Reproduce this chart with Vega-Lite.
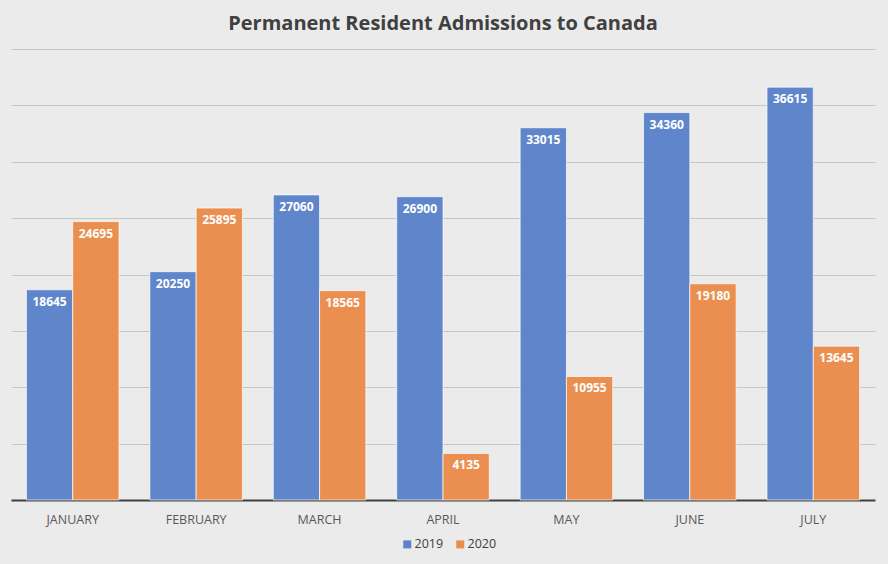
{
  "$schema": "https://vega.github.io/schema/vega-lite/v6.json",
  "width": 864,
  "height": 451,
  "autosize": "none",
  "padding": {"left": 11, "top": 49, "right": 13, "bottom": 64},
  "background": "#ebebeb",
  "title": {
    "text": "Permanent Resident Admissions to Canada",
    "font": "Open Sans",
    "fontSize": 20,
    "fontWeight": "bold",
    "color": "#404040",
    "offset": 15
  },
  "data": {
    "values": [
      {"month": "JANUARY", "year": "2019", "value": 18645},
      {"month": "JANUARY", "year": "2020", "value": 24695},
      {"month": "FEBRUARY", "year": "2019", "value": 20250},
      {"month": "FEBRUARY", "year": "2020", "value": 25895},
      {"month": "MARCH", "year": "2019", "value": 27060},
      {"month": "MARCH", "year": "2020", "value": 18565},
      {"month": "APRIL", "year": "2019", "value": 26900},
      {"month": "APRIL", "year": "2020", "value": 4135},
      {"month": "MAY", "year": "2019", "value": 33015},
      {"month": "MAY", "year": "2020", "value": 10955},
      {"month": "JUNE", "year": "2019", "value": 34360},
      {"month": "JUNE", "year": "2020", "value": 19180},
      {"month": "JULY", "year": "2019", "value": 36615},
      {"month": "JULY", "year": "2020", "value": 13645}
    ]
  },
  "encoding": {
    "x": {
      "field": "month",
      "type": "nominal",
      "sort": ["JANUARY", "FEBRUARY", "MARCH", "APRIL", "MAY", "JUNE", "JULY"],
      "scale": {"paddingInner": 0.25, "paddingOuter": 0.125},
      "axis": {
        "title": null,
        "labelAngle": 0,
        "labelFont": "Open Sans",
        "labelFontSize": 12.5,
        "labelColor": "#595959",
        "labelPadding": 13,
        "ticks": false,
        "domainColor": "#404040",
        "domainWidth": 2
      }
    },
    "xOffset": {"field": "year", "type": "nominal"},
    "y": {
      "field": "value",
      "type": "quantitative",
      "scale": {"domain": [0, 40000]},
      "axis": {
        "title": null,
        "labels": false,
        "ticks": false,
        "domain": false,
        "values": [5000, 10000, 15000, 20000, 25000, 30000, 35000, 40000],
        "gridColor": "#a8a8a8",
        "gridOpacity": 0.55
      }
    }
  },
  "layer": [
    {
      "mark": {"type": "bar", "stroke": "white", "strokeOpacity": 0.7, "strokeWidth": 1, "opacity": 0.97},
      "encoding": {
        "color": {
          "field": "year",
          "type": "nominal",
          "scale": {"range": ["#5b83ca", "#ec8d4d"]},
          "legend": {
            "title": null,
            "orient": "none",
            "legendX": 390,
            "legendY": 489,
            "direction": "horizontal",
            "symbolType": "square",
            "symbolSize": 64,
            "symbolOpacity": 1,
            "symbolStrokeWidth": 0,
            "labelFont": "Open Sans",
            "labelFontSize": 12.5,
            "labelColor": "#404040",
            "labelOffset": 1,
            "columnPadding": 10
          }
        }
      }
    },
    {
      "mark": {
        "type": "text",
        "color": "white",
        "font": "Open Sans",
        "fontSize": 12,
        "fontWeight": "bold",
        "baseline": "middle",
        "dy": 12
      },
      "encoding": {"text": {"field": "value", "type": "quantitative", "format": "d"}}
    }
  ],
  "config": {"view": {"stroke": null}}
}
